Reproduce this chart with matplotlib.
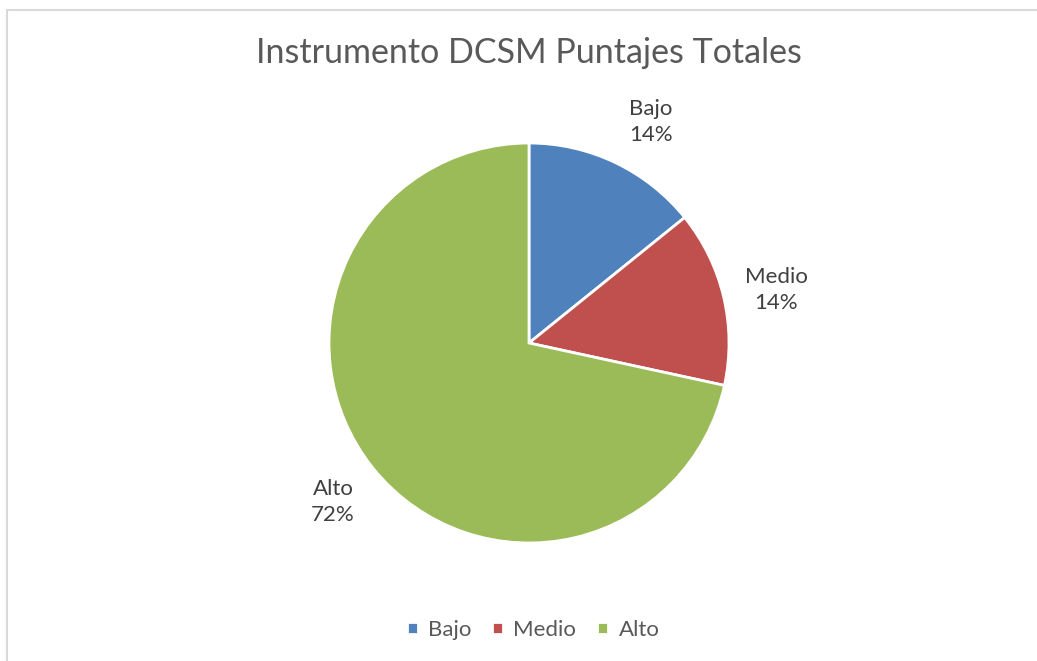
import matplotlib
matplotlib.use("Agg")
import matplotlib.pyplot as plt
from matplotlib.patches import Rectangle

plt.rcParams['font.family'] = ['Lato', 'DejaVu Sans']

# data (slice angles suggest these raw values)
categories = ["Bajo", "Medio", "Alto"]
values = [14.28, 14.28, 72]
colors = ["#4F81BD", "#C0504D", "#9BBB59"]
title = "Instrumento DCSM Puntajes Totales"

# where Excel put the data labels (in pie radius units)
label_pos = [(0.61, 1.105), (1.235, 0.265), (-0.98, -0.795)]

W, H = 1037, 661
fig = plt.figure(figsize=(W / 100, H / 100), dpi=100)

# light grey chart frame (only top and left edges show)
fig.patches.append(Rectangle((6.5 / W, -0.01), 1.1, (H - 9.5) / H + 0.01,
                             transform=fig.transFigure, fill=False,
                             edgecolor="#D9D9D9", linewidth=1.5))

cx, cy, r = 529, 343, 200
ax = fig.add_axes([(cx - r) / W, (H - cy - r) / H, 2 * r / W, 2 * r / H])
total = sum(values)
labels = [f"{c}\n{round(100 * v / total)}%" for c, v in zip(categories, values)]
wedges, texts = ax.pie(values, colors=colors, startangle=90, counterclock=False,
                       radius=1, labels=labels,
                       wedgeprops=dict(edgecolor="white", linewidth=2),
                       textprops=dict(ha="center", va="center", fontsize=16,
                                      color="#404040", linespacing=1.4))
for t, p in zip(texts, label_pos):
    t.set_position(p)
ax.set_xlim(-1, 1)
ax.set_ylim(-1, 1)
ax.set_aspect("equal")

fig.text(cx / W, 1 - 53 / H, title, ha="center", va="center",
         fontsize=24.5, color="#595959")

fig.legend(wedges, categories, loc="center", bbox_to_anchor=(533 / W, 1 - 630 / H),
           ncol=3, frameon=False, fontsize=16, labelcolor="#595959",
           handlelength=0.5, handleheight=0.5, handletextpad=0.45, columnspacing=0.95)

fig.savefig("out.png", dpi=100, facecolor="white")
